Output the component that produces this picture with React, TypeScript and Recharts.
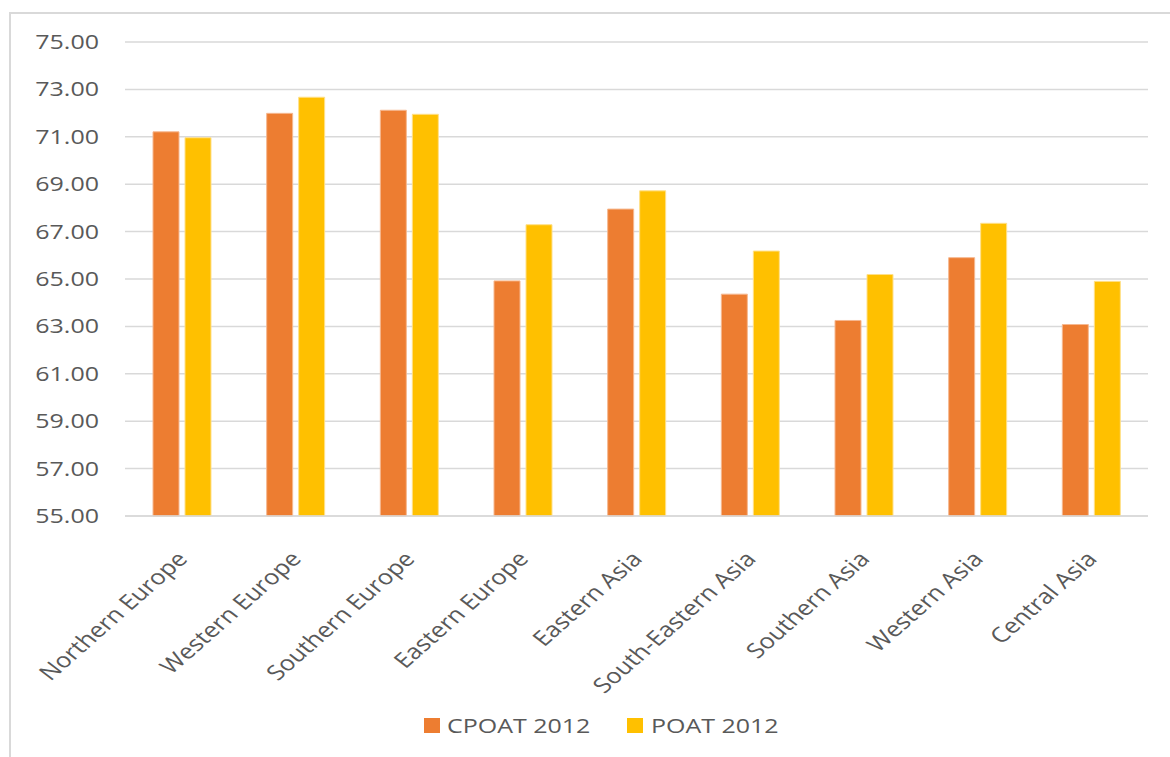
import { Bar, BarChart, CartesianGrid, XAxis, YAxis } from "recharts";

const regions = [
  "Northern Europe",
  "Western Europe",
  "Southern Europe",
  "Eastern Europe",
  "Eastern Asia",
  "South-Eastern Asia",
  "Southern Asia",
  "Western Asia",
  "Central Asia",
];
const cpoat2012 = [71.21, 71.99, 72.12, 64.92, 67.95, 64.36, 63.25, 65.9, 63.08];
const poat2012 = [70.96, 72.67, 71.95, 67.29, 68.72, 66.18, 65.19, 67.35, 64.9];
const yTicks = [55, 57, 59, 61, 63, 65, 67, 69, 71, 73, 75];

const ORANGE = "#ED7D31";
const YELLOW = "#FFC000";
const TEXT = "#595959";
const GRID = "#d9d9d9";
const FONT = "'Open Sans', sans-serif";
// the source picture is stretched sideways, so text is widened to match
const STRETCH = 1.25;

const data = regions.map((name, i) => ({
  name,
  cpoat: cpoat2012[i],
  poat: poat2012[i],
}));

const YTick = ({ y, payload }: any) => (
  <g transform={`translate(99,${y}) scale(${STRETCH},1)`}>
    <text textAnchor="end" dy={7} fontSize={20} fontFamily={FONT} fill={TEXT}>
      {payload.value.toFixed(2)}
    </text>
  </g>
);

const XTick = ({ x, y, payload }: any) => (
  <g transform={`translate(${x + 7},${y + 36}) scale(1.22,1)`}>
    <text
      textAnchor="end"
      transform="rotate(-47)"
      fontSize={21}
      fontFamily={FONT}
      fill={TEXT}
    >
      {payload.value}
    </text>
  </g>
);

export default function App() {
  return (
    <div
      style={{
        position: "absolute",
        left: 0,
        top: 0,
        width: 1170,
        height: 757,
        overflow: "hidden",
        background: "#fff",
      }}
    >
      <div
        style={{
          position: "absolute",
          left: 9,
          top: 12,
          width: 1300,
          height: 900,
          borderLeft: `2px solid ${GRID}`,
          borderTop: `2px solid ${GRID}`,
        }}
      />
      <div style={{ position: "absolute", left: 0, top: 0 }}>
        <BarChart
          width={1170}
          height={757}
          data={data}
          margin={{ top: 42, right: 22, bottom: 81, left: 10 }}
          barGap={6}
          barSize={26}
        >
          <CartesianGrid
            vertical={false}
            stroke={GRID}
            strokeWidth={1.5}
          />
          <XAxis
            dataKey="name"
            interval={0}
            height={160}
            tickLine={false}
            axisLine={{ stroke: GRID, strokeWidth: 1.5 }}
            tick={<XTick />}
          />
          <YAxis
            width={115}
            domain={[55, 75]}
            ticks={yTicks}
            axisLine={false}
            tickLine={false}
            tick={<YTick />}
          />
          <Bar
            dataKey="cpoat"
            name="CPOAT 2012"
            fill={ORANGE}
            stroke="#f6b890"
            strokeWidth={1}
            isAnimationActive={false}
          />
          <Bar
            dataKey="poat"
            name="POAT 2012"
            fill={YELLOW}
            stroke="#ffe08a"
            strokeWidth={1}
            isAnimationActive={false}
          />
        </BarChart>
      </div>
      <svg
        width={1170}
        height={60}
        style={{ position: "absolute", left: 0, top: 700 }}
      >
        <rect x={424} y={18} width={16} height={15} fill={ORANGE} />
        <g transform={`translate(447,33) scale(${STRETCH},1)`}>
          <text fontSize={20} fontFamily={FONT} fill={TEXT}>
            CPOAT 2012
          </text>
        </g>
        <rect x={627} y={18} width={16} height={15} fill={YELLOW} />
        <g transform={`translate(651,33) scale(${STRETCH},1)`}>
          <text fontSize={20} fontFamily={FONT} fill={TEXT}>
            POAT 2012
          </text>
        </g>
      </svg>
    </div>
  );
}
